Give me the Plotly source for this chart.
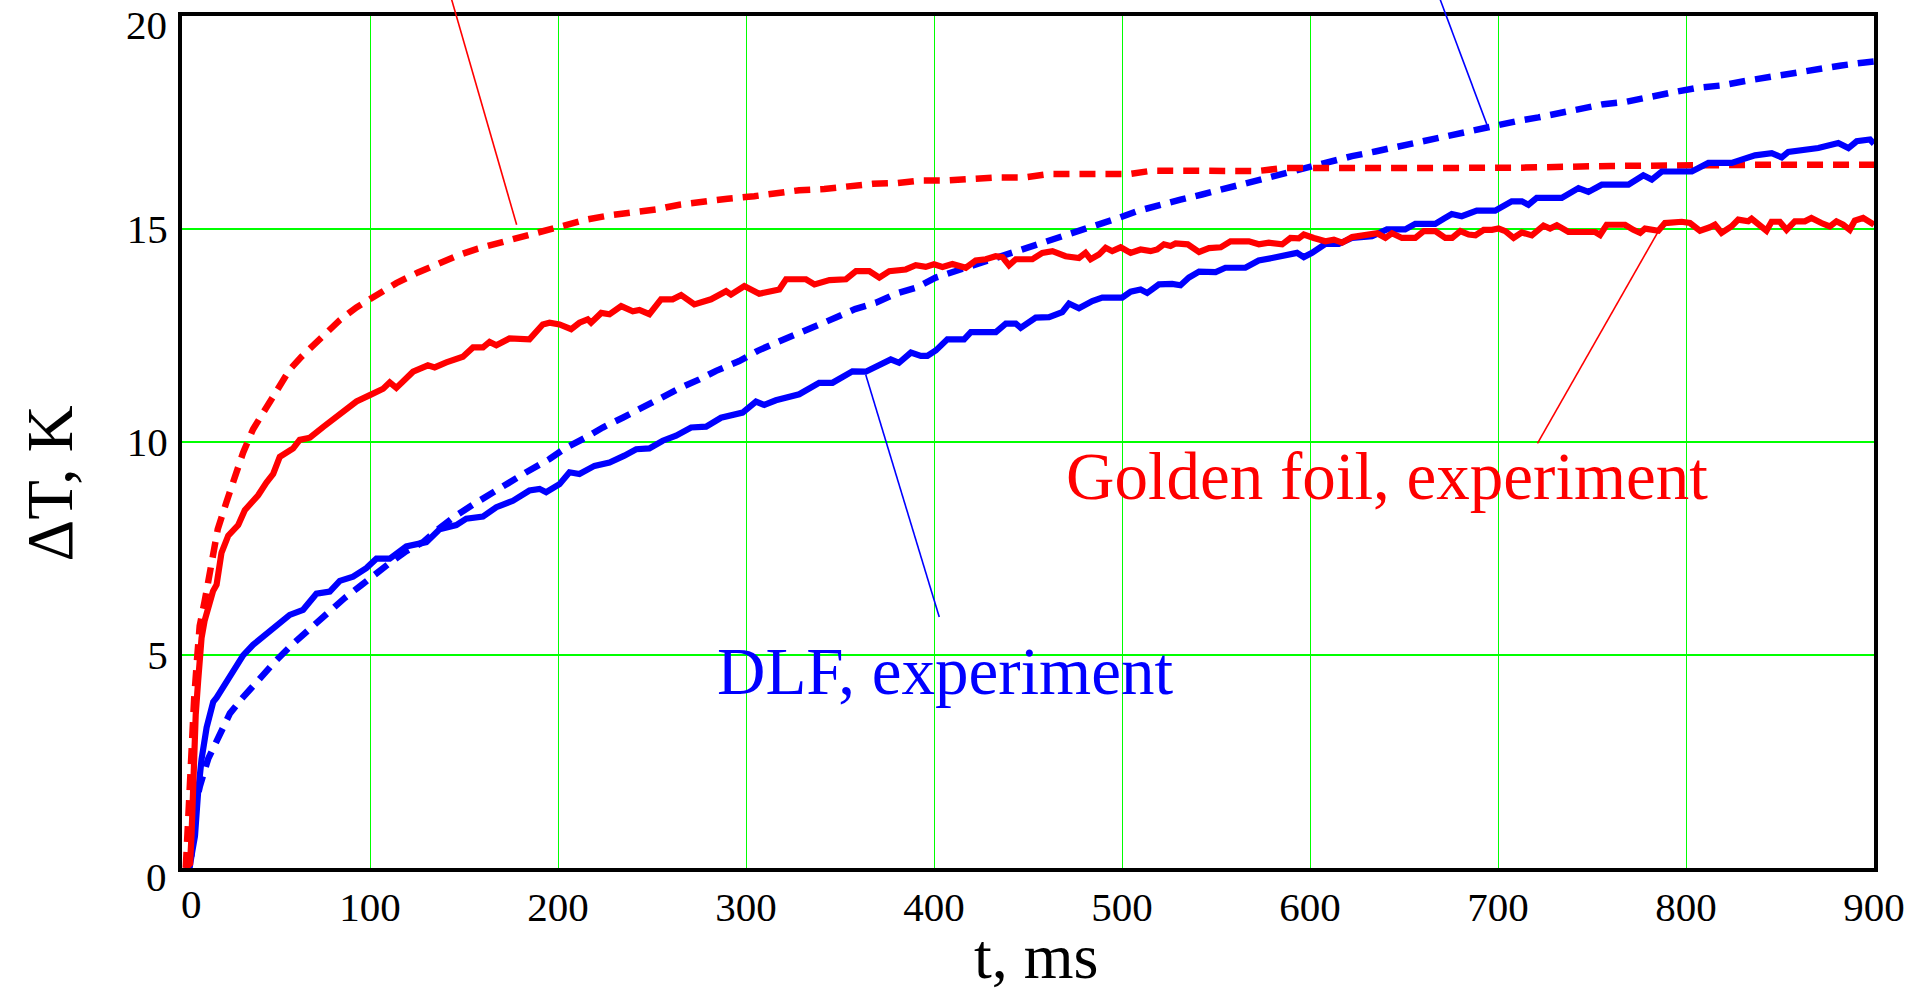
import plotly.graph_objects as go

# ---------------- data ----------------
X_RANGE = [0, 900]
Y_RANGE = [0, 20]
X_TICKS = [0, 100, 200, 300, 400, 500, 600, 700, 800, 900]
Y_TICKS = [0, 5, 10, 15, 20]

# Golden foil, experiment (red solid)
gold_exp_t = [
    2, 4.3, 5.1, 6, 7.3, 8.6, 10.4, 12, 14, 16.5,
    18.4, 21, 24.6, 29.9, 33.4, 40.5, 44.9, 48.5, 52, 59.1,
    62.6, 68, 75, 83.9, 92.8, 99.9, 107, 110.5, 114, 122.9,
    130.8, 134.4, 140.6, 149.4, 154.8, 160.1, 163.6, 167.2, 174.2, 184.8,
    191.9, 195.5, 200.8, 207, 211.4, 215.8, 217.6, 223, 227.4, 233.6,
    239.8, 243.3, 248.6, 254.8, 261, 265.5, 272.5, 281.4, 289.4, 292,
    299.1, 307, 317.7, 321.3, 331.9, 336.4, 344.4, 353.2, 358.5, 365.6,
    370.9, 376.2, 385, 390.3, 395.6, 400, 404.5, 409.8, 416.9, 422.2,
    427.5, 432.8, 436.4, 439.9, 443.5, 452.3, 457.6, 463, 470, 477.1,
    480.6, 483.3, 487.7, 491.3, 494.8, 499.3, 504.6, 509.9, 515.2, 518.7,
    522.3, 525.8, 528.5, 535, 541, 546.3, 552.5, 557.7, 567.5, 572.8,
    578.1, 585.2, 589.6, 594, 596.7, 602, 608.2, 612.7, 617.1, 622.4,
    631.2, 635.7, 640.1, 643.6, 648.9, 656, 660.5, 666.7, 672, 675.6,
    680, 684.4, 688, 692.4, 696.8, 700.3, 703.9, 708.3, 712.7, 718,
    724.2, 727.7, 731.3, 737.5, 751.7, 754.3, 757.8, 767.6, 772, 775.6,
    778.2, 785.3, 788.8, 797.7, 802.1, 807.4, 812.7, 815.4, 818.9, 824.2,
    827.8, 833.1, 834.9, 838.4, 842.8, 845.5, 849.9, 853.5, 857.9, 863.2,
    866.7, 872, 876.5, 880, 883.6, 887.1, 889.8, 894.2, 897.8, 900,
]
gold_exp_y = [
    0, 0.1, 0.8, 2.2, 3.6, 4.4, 5.4, 5.8, 6.1, 6.5,
    6.65, 7.4, 7.8, 8.05, 8.4, 8.75, 9.05, 9.25, 9.65, 9.85,
    10.05, 10.1, 10.35, 10.65, 10.95, 11.1, 11.25, 11.4, 11.27, 11.65,
    11.8, 11.75, 11.87, 12.0, 12.22, 12.22, 12.35, 12.27, 12.43, 12.41,
    12.76, 12.8, 12.76, 12.65, 12.8, 12.88, 12.8, 13.03, 13.0, 13.19,
    13.07, 13.1, 13.0, 13.35, 13.35, 13.45, 13.23, 13.35, 13.54, 13.46,
    13.66, 13.48, 13.58, 13.82, 13.82, 13.7, 13.8, 13.82, 14.01, 14.01,
    13.86, 14.01, 14.05, 14.15, 14.11, 14.17, 14.11, 14.18, 14.09, 14.26,
    14.29, 14.36, 14.34, 14.15, 14.29, 14.29, 14.44, 14.48, 14.36, 14.32,
    14.44, 14.29, 14.4, 14.56, 14.48, 14.57, 14.44, 14.52, 14.48, 14.52,
    14.64, 14.6, 14.66, 14.64, 14.46, 14.55, 14.57, 14.71, 14.71, 14.64,
    14.68, 14.64, 14.79, 14.78, 14.87, 14.79, 14.71, 14.75, 14.68, 14.81,
    14.87, 14.9, 14.79, 14.9, 14.79, 14.79, 14.95, 14.95, 14.79, 14.79,
    14.95, 14.87, 14.85, 14.98, 14.98, 15.01, 14.95, 14.79, 14.92, 14.85,
    15.08, 15.01, 15.09, 14.93, 14.93, 14.86, 15.1, 15.1, 14.98, 14.91,
    15.01, 14.96, 15.14, 15.17, 15.14, 14.96, 15.04, 15.1, 14.91, 15.06,
    15.22, 15.18, 15.24, 15.12, 14.96, 15.17, 15.17, 14.98, 15.18, 15.18,
    15.26, 15.14, 15.06, 15.18, 15.1, 14.98, 15.2, 15.26, 15.14, 15.1,
]

# Golden foil, calculation (red dashed)
gold_calc_t = [
    2, 3.5, 5, 6.5, 8, 9.4, 12, 14.5, 16.5, 19,
    23.7, 28.1, 32.5, 37.8, 44.6, 51.1, 57.3, 63.5, 75.9, 83.9,
    92.8, 104.3, 114, 125.5, 137, 146.8, 157.4, 168.9, 179.5, 191.9,
    202.6, 215, 227.4, 239.8, 252.2, 264.6, 276.9, 290.2, 304.4, 316.8,
    328.3, 341.6, 355, 367.3, 380.6, 393, 407.1, 420.4, 433.6, 447.8,
    461.2, 475.3, 489.5, 503.7, 516.1, 530.3, 548, 559.5, 571.9, 586,
    600.2, 628.6, 656, 684.4, 712.7, 760, 800, 850, 900,
]
gold_calc_y = [
    0, 1.5, 2.9, 4.0, 4.9, 5.68, 6.25, 6.9, 7.4, 7.95,
    8.6, 9.2, 9.75, 10.3, 10.8, 11.25, 11.7, 12.0, 12.5, 12.86,
    13.16, 13.46, 13.73, 13.98, 14.2, 14.38, 14.54, 14.67, 14.81, 14.95,
    15.09, 15.22, 15.32, 15.38, 15.46, 15.57, 15.65, 15.71, 15.77, 15.85,
    15.91, 15.94, 16.0, 16.06, 16.08, 16.14, 16.14, 16.18, 16.21, 16.21,
    16.29, 16.29, 16.29, 16.29, 16.37, 16.37, 16.37, 16.36, 16.36, 16.43,
    16.44, 16.43, 16.43, 16.43, 16.44, 16.48, 16.5, 16.51, 16.51,
]

# DLF, experiment (blue solid)
dlf_exp_t = [
    2, 4.2, 5.1, 6.9, 8.6, 10.4, 13.1, 16.6, 18.4, 23.7,
    28.1, 32.5, 37.8, 43.2, 48.5, 53.8, 57.3, 64.4, 71.5, 78.6,
    83.9, 91, 98.1, 103.4, 110.5, 119.3, 130, 137, 145.9, 151.2,
    160.1, 167.2, 176, 184.8, 190.2, 193.7, 200.8, 206.1, 211.4, 219.4,
    227.4, 235.3, 241.6, 248.6, 255.7, 262.8, 270.8, 278.8, 286.7, 298.2,
    305.3, 309.7, 315.9, 328.3, 338.9, 346, 356.6, 363.7, 370.8, 377,
    381.4, 387.7, 393, 396.5, 401, 407.1, 416, 419.6, 432.9, 438.2,
    443.5, 446.1, 454.1, 461.2, 468.2, 471.8, 477.1, 484.2, 489.5, 500.1,
    504.6, 509.9, 513.4, 519.6, 526.7, 531.1, 535.6, 541, 549.8, 555,
    565.6, 572.7, 579.8, 585.2, 590.5, 593.1, 596.7, 601.1, 608.2, 615.3,
    622.3, 633, 640.9, 650.6, 656, 666.6, 671.9, 675.4, 680.7, 684.3,
    688.7, 698.5, 702.9, 707.3, 712.7, 716.2, 720.6, 733.9, 742.8, 748.1,
    755.2, 769.4, 777.3, 781.8, 787.1, 803.1, 811.9, 824.3, 829.6, 836.7,
    845.6, 850.9, 854.4, 863.3, 870.4, 881, 886.4, 890.8, 897.9, 900,
]
dlf_exp_y = [
    0, 0.05, 0.3, 0.75, 1.8, 2.55, 3.3, 3.9, 4.0, 4.38,
    4.69, 4.99, 5.24, 5.44, 5.64, 5.79, 5.94, 6.06, 6.44, 6.49,
    6.74, 6.84, 7.04, 7.26, 7.26, 7.55, 7.65, 7.95, 8.05, 8.2,
    8.25, 8.47, 8.62, 8.86, 8.9, 8.82, 9.01, 9.29, 9.25, 9.44,
    9.52, 9.68, 9.83, 9.85, 10.03, 10.15, 10.34, 10.36, 10.57, 10.69,
    10.95, 10.87, 10.98, 11.12, 11.39, 11.39, 11.66, 11.65, 11.82, 11.94,
    11.86, 12.1, 12.02, 12.02, 12.15, 12.41, 12.41, 12.58, 12.58, 12.78,
    12.78, 12.68, 12.92, 12.93, 13.05, 13.25, 13.14, 13.31, 13.39, 13.39,
    13.53, 13.58, 13.5, 13.7, 13.71, 13.68, 13.86, 14.0, 13.99, 14.09,
    14.09, 14.26, 14.32, 14.36, 14.42, 14.44, 14.34, 14.44, 14.65, 14.65,
    14.79, 14.83, 14.99, 14.99, 15.12, 15.12, 15.26, 15.35, 15.3, 15.35,
    15.43, 15.43, 15.53, 15.65, 15.65, 15.57, 15.73, 15.73, 15.96, 15.87,
    16.04, 16.04, 16.26, 16.16, 16.35, 16.35, 16.55, 16.55, 16.63, 16.73,
    16.78, 16.68, 16.81, 16.84, 16.9, 17.02, 16.9, 17.06, 17.1, 17.0,
]

# DLF, calculation (blue dashed)
dlf_calc_t = [
    2, 5, 6, 9.5, 13.9, 20.1, 25.5, 31.7, 39.6, 49.4,
    58.2, 69.7, 76.8, 86.6, 95.4, 103.4, 111.4, 119.3, 128.2, 136.1,
    145, 154.8, 164.6, 174.2, 183.1, 195.5, 204.4, 215, 223.8, 234.4,
    243.3, 255.7, 265.5, 275.2, 284.1, 296.4, 306.2, 315.9, 326.6, 338.9,
    347.8, 358, 369.1, 379.7, 390.3, 400.9, 411.6, 422.2, 433.7, 444.3,
    455, 465.6, 476.2, 486.8, 497.5, 508.1, 519.6, 531.1, 542.6, 555,
    566.5, 578, 589.6, 600.2, 611.7, 622.3, 634.7, 647.1, 659.5, 671.9,
    684.3, 696.7, 710.9, 721.5, 733.1, 744.5, 756.1, 768.5, 780.9, 793.3,
    805.6, 818.9, 832.2, 845.5, 857.9, 870.3, 882.7, 895.1, 900,
]
dlf_calc_y = [
    0, 0.3, 1.23, 1.92, 2.56, 3.13, 3.63, 3.97, 4.38, 4.84,
    5.23, 5.69, 5.99, 6.34, 6.64, 6.94, 7.19, 7.44, 7.65, 7.95,
    8.25, 8.53, 8.8, 9.05, 9.29, 9.6, 9.87, 10.11, 10.34, 10.57,
    10.77, 11.08, 11.28, 11.47, 11.67, 11.9, 12.14, 12.33, 12.53, 12.72,
    12.92, 13.12, 13.27, 13.48, 13.62, 13.86, 14.01, 14.18, 14.34, 14.5,
    14.65, 14.79, 14.95, 15.1, 15.25, 15.42, 15.57, 15.69, 15.81, 15.95,
    16.1, 16.24, 16.35, 16.47, 16.59, 16.71, 16.82, 16.94, 17.07, 17.17,
    17.29, 17.41, 17.54, 17.62, 17.72, 17.84, 17.93, 17.99, 18.11, 18.21,
    18.31, 18.37, 18.48, 18.58, 18.68, 18.76, 18.84, 18.91, 18.93,
]

# label texts and their anchor positions (data units)
LABELS = ["Golden foil, experiment", "DLF, experiment"]
LABEL_X = [469, 283.5]
LABEL_Y = [9.21, 4.62]
LABEL_COLORS = ["#ff0000", "#0000ff"]

# leader lines (data units): start point, end point
LEADERS_T0 = [143, 668.7, 721, 363.7]
LEADERS_Y0 = [20.45, 20.45, 9.97, 11.58]
LEADERS_T1 = [178, 694.1, 787, 402.8]
LEADERS_Y1 = [15.1, 17.45, 15.08, 5.89]
LEADER_COLORS = ["#ff0000", "#0000ff", "#ff0000", "#0000ff"]

assert len(gold_exp_t) == len(gold_exp_y)
assert len(gold_calc_t) == len(gold_calc_y)
assert len(dlf_exp_t) == len(dlf_exp_y)
assert len(dlf_calc_t) == len(dlf_calc_y)

FONT = "Liberation Serif, Times New Roman, serif"
RED = "#ff0000"
BLUE = "#0000ff"
GRID = "#00ff00"
TICK_SIZE = 41

fig = go.Figure()
fig.add_trace(go.Scatter(x=dlf_calc_t, y=dlf_calc_y, mode="lines",
                         line=dict(color=BLUE, width=6.5, dash="16px,10px")))
fig.add_trace(go.Scatter(x=gold_calc_t, y=gold_calc_y, mode="lines",
                         line=dict(color=RED, width=6.5, dash="16px,10px")))
fig.add_trace(go.Scatter(x=dlf_exp_t, y=dlf_exp_y, mode="lines",
                         line=dict(color=BLUE, width=6.2)))
fig.add_trace(go.Scatter(x=gold_exp_t, y=gold_exp_y, mode="lines",
                         line=dict(color=RED, width=6.2)))


def to_paper(t, v):
    return ((t - X_RANGE[0]) / (X_RANGE[1] - X_RANGE[0]),
            (v - Y_RANGE[0]) / (Y_RANGE[1] - Y_RANGE[0]))


shapes = []
for t0, y0, t1, y1, c in zip(LEADERS_T0, LEADERS_Y0, LEADERS_T1, LEADERS_Y1, LEADER_COLORS):
    px0, py0 = to_paper(t0, y0)
    px1, py1 = to_paper(t1, y1)
    shapes.append(dict(type="line", xref="paper", yref="paper",
                       x0=px0, y0=py0, x1=px1, y1=py1,
                       line=dict(color=c, width=1.6)))

annotations = []
for txt, lx, ly, c in zip(LABELS, LABEL_X, LABEL_Y, LABEL_COLORS):
    annotations.append(dict(text=txt, x=lx, y=ly, xref="x", yref="y",
                            xanchor="left", yanchor="middle", showarrow=False,
                            font=dict(family=FONT, size=67, color=c)))

# axis titles
annotations.append(dict(text="ΔT, K", x=-0.0779, y=0.4516, xref="paper", yref="paper",
                        xanchor="center", yanchor="middle", textangle=-90, showarrow=False,
                        font=dict(family=FONT, size=65, color="black")))
annotations.append(dict(text="t, ms", x=0.5047, y=-0.1043, xref="paper", yref="paper",
                        xanchor="center", yanchor="middle", showarrow=False,
                        font=dict(family=FONT, size=64, color="black")))

# end-of-axis tick labels, which the original nudges inwards
tickfont = dict(family=FONT, size=TICK_SIZE, color="black")
annotations.append(dict(text=str(Y_TICKS[-1]), x=-0.0077, y=0.9894, xref="paper", yref="paper",
                        xanchor="right", yanchor="middle", showarrow=False, font=tickfont))
annotations.append(dict(text=str(Y_TICKS[0]), x=-0.0077, y=-0.0105, xref="paper", yref="paper",
                        xanchor="right", yanchor="middle", showarrow=False, font=tickfont))
annotations.append(dict(text=str(X_TICKS[0]), x=0.0059, y=-0.0422, xref="paper", yref="paper",
                        xanchor="center", yanchor="middle", showarrow=False, font=tickfont))

x_ticktext = [""] + [str(v) for v in X_TICKS[1:]]
y_ticktext = [""] + [str(v) for v in Y_TICKS[1:-1]] + [""]

fig.update_layout(
    width=1917, height=994, autosize=False,
    margin=dict(l=182, r=41, t=14, b=126, pad=0),
    paper_bgcolor="white", plot_bgcolor="white",
    showlegend=False,
    shapes=shapes,
    annotations=annotations,
    xaxis=dict(range=X_RANGE, tickvals=X_TICKS, ticktext=x_ticktext,
               showgrid=True, gridcolor=GRID, gridwidth=1.2, zeroline=False,
               showline=True, linecolor="black", linewidth=4, mirror=True,
               ticks="", ticklabelstandoff=0,
               tickfont=tickfont),
    yaxis=dict(range=Y_RANGE, tickvals=Y_TICKS, ticktext=y_ticktext,
               showgrid=True, gridcolor=GRID, gridwidth=2, zeroline=False,
               showline=True, linecolor="black", linewidth=4, mirror=True,
               ticks="", ticklabelstandoff=2,
               tickfont=tickfont),
)

fig.write_html("out.html")
